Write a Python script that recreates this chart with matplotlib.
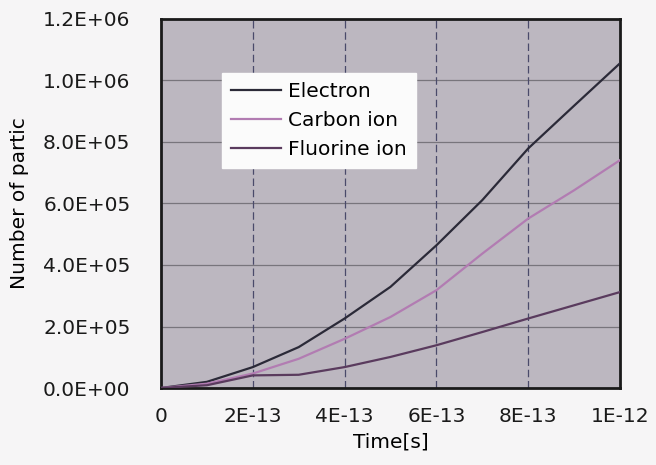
import matplotlib.pyplot as plt
from matplotlib.ticker import FixedLocator

plt.rcParams['font.family'] = ['DejaVu Sans']

# time [s]
time = [0, 1e-13, 2e-13, 3e-13, 4e-13, 5e-13, 6e-13, 7e-13, 8e-13, 9e-13, 1e-12]
electron = [0, 20e3, 68e3, 133e3, 226e3, 329e3, 464e3, 611e3, 779e3, 918e3, 1056e3]
carbon = [0, 14e3, 47e3, 95e3, 160e3, 231e3, 318e3, 437e3, 551e3, 643e3, 741e3]
fluorine = [0, 9e3, 41e3, 43e3, 68e3, 101e3, 139e3, 182e3, 226e3, 269e3, 312e3]

xticks = [0, 2e-13, 4e-13, 6e-13, 8e-13, 1e-12]
xtick_labels = ['0', '2E-13', '4E-13', '6E-13', '8E-13', '1E-12']
yticks = [0, 2e5, 4e5, 6e5, 8e5, 1e6, 1.2e6]
ytick_labels = ['0.0E+00', '2.0E+05', '4.0E+05', '6.0E+05', '8.0E+05', '1.0E+06', '1.2E+06']

fig = plt.figure(figsize=(6.56, 4.65), dpi=100, facecolor='#f6f5f6')
ax = fig.add_axes([161 / 656, 1 - 388 / 465, (620 - 161) / 656, (388 - 19) / 465])
ax.set_facecolor('#bcb7c0')

# grid: solid horizontal, dashed vertical
for y in yticks[1:-1]:
    ax.axhline(y, color='#78757c', lw=0.9, zorder=1)
for x in xticks[1:-1]:
    ax.axvline(x, color='#4a4a6a', lw=0.9, ls=(0, (6, 3)), zorder=1)

ax.plot(time, electron, color='#2b2a38', lw=1.6, label='Electron', zorder=3)
ax.plot(time, carbon, color='#b27cb2', lw=1.6, label='Carbon ion', zorder=3)
ax.plot(time, fluorine, color='#5a3b5e', lw=1.6, label='Fluorine ion', zorder=3)

ax.set_xlim(0, 1e-12)
ax.set_ylim(0, 1.2e6)
ax.xaxis.set_major_locator(FixedLocator(xticks))
ax.yaxis.set_major_locator(FixedLocator(yticks))
ax.set_xticklabels(xtick_labels)
ax.set_yticklabels(ytick_labels)
ax.tick_params(length=0, labelsize=14.5, colors='#1a1a1a')
ax.tick_params(axis='y', pad=22)
ax.tick_params(axis='x', pad=14)
for s in ax.spines.values():
    s.set_linewidth(2)
    s.set_color('#1a1a1a')

ax.set_xlabel('Time[s]', fontsize=14.5, labelpad=4)
ax.set_ylabel('Number of partic', fontsize=14.5, labelpad=10)

leg = ax.legend(loc='upper left', bbox_to_anchor=((222 - 161) / 459, 1 - (73 - 19) / 369),
                frameon=True, fancybox=False, fontsize=14.5, handlelength=2.5,
                handletextpad=0.35, labelspacing=0.5, borderpad=0.45, borderaxespad=0)
leg.get_frame().set_facecolor('#fbfbfb')
leg.get_frame().set_edgecolor('#fbfbfb')
leg.get_frame().set_alpha(1)

fig.savefig('out.png', dpi=100, facecolor=fig.get_facecolor())
